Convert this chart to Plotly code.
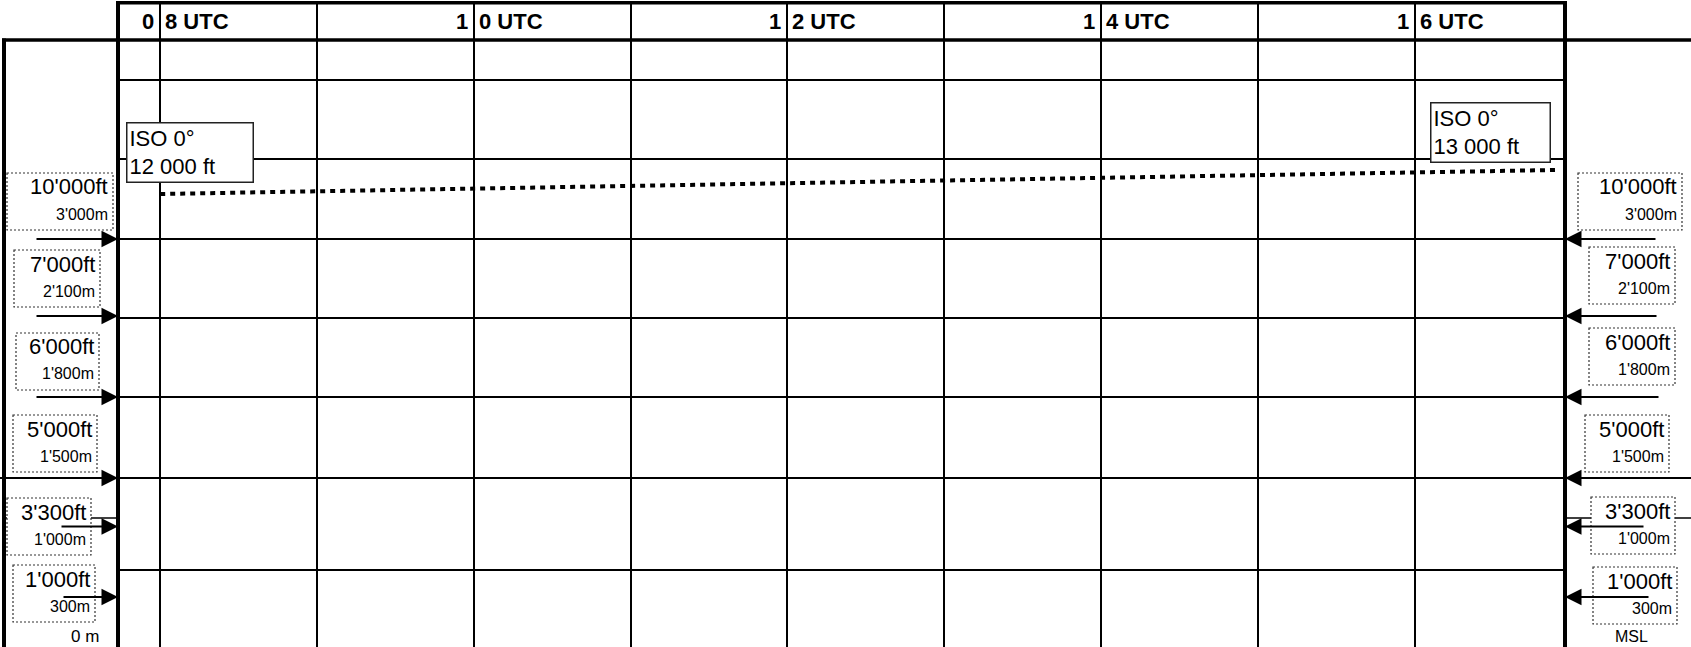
import numpy as np
import plotly.graph_objects as go

# ---------------- data ----------------
utc_hours = [8, 10, 12, 14, 16]
utc_labels = ["08 UTC", "10 UTC", "12 UTC", "14 UTC", "16 UTC"]

level_ft = [10000, 7000, 6000, 5000, 3300, 1000]
level_ft_labels = ["10'000ft", "7'000ft", "6'000ft", "5'000ft", "3'300ft", "1'000ft"]
level_m_labels = ["3'000m", "2'100m", "1'800m", "1'500m", "1'000m", "300m"]

iso_hours = [8.0, 16.9]
iso_ft = [12000, 13000]
iso_labels = ["ISO 0°<br>12 000 ft", "ISO 0°<br>13 000 ft"]

base_left_label = "0 m"
base_right_label = "MSL"

# ---------------- layout / scales ----------------
W, H = 1691, 647
FONT = "Liberation Sans, Arial, sans-serif"
FRAME_L, FRAME_R, FRAME_T = 118, 1565, 3
HOUR12_PX, PX_PER_HOUR = 787.4, 156.8
x_range = [12 + (FRAME_L - HOUR12_PX) / PX_PER_HOUR,
           12 + (FRAME_R - HOUR12_PX) / PX_PER_HOUR]

# schematic (non-linear) altitude scale: axis unit = px from top
SCALE_FT = [1000, 3300, 5000, 6000, 7000, 10000, 12000, 13000]
SCALE_Y = [597, 526.5, 478, 397, 316, 239, 194, 170]


def vpos(ft):
    return np.interp(ft, SCALE_FT, SCALE_Y)


GRID_ROWS = [80, 159, 239, 318, 397, 478, 570]

LEFT_BOX_X = [(7, 113), (14, 100), (16, 99), (13, 97), (7, 91), (13, 95)]
LEFT_BOX_TOP = [173, 250, 333, 415, 498, 565]
RIGHT_BOX_X = [(1578, 1682), (1589, 1675), (1589, 1675), (1585, 1669), (1591, 1675), (1593, 1677)]
RIGHT_BOX_TOP = [173, 247, 328, 415, 497, 567]
BOX_H = 57
LEFT_TAIL = [35, 35, 35, 35, 60, 62]
RIGHT_TAIL = [1657, 1658, 1660, 1660, 1645, 1650]

BIG, SMALL = 22, 16


def px(x):
    return x / W


def py(y):
    return 1 - y / H


fig = go.Figure()

# ISO 0° line
fig.add_trace(go.Scatter(
    x=iso_hours, y=vpos(iso_ft), mode="lines",
    line=dict(color="black", width=4, dash="5px,5px"),
    hoverinfo="skip", showlegend=False,
))

shapes = []


def hline(y, x0, x1, w):
    shapes.append(dict(type="line", xref="paper", yref="paper", x0=px(x0), x1=px(x1),
                       y0=py(y), y1=py(y), line=dict(color="black", width=w), layer="above"))


def vline(x, y0, y1, w):
    shapes.append(dict(type="line", xref="paper", yref="paper", x0=px(x), x1=px(x),
                       y0=py(y0), y1=py(y1), line=dict(color="black", width=w), layer="above"))


# margin lines (below the label boxes)
hline(478, 0, FRAME_L, 2)
hline(478, FRAME_R, W, 2)
hline(518, 4, FRAME_L, 1.5)
hline(518, FRAME_R, W, 1.5)

# frames
vline(FRAME_L, 1, H, 4)
vline(FRAME_R, 1, H, 4)
hline(2.7, FRAME_L - 2, FRAME_R + 2, 3.5)
hline(40, 2, W, 3.5)
vline(4, 38.5, H, 4)

annotations = []

# level label boxes, labels and arrows
for i, ft in enumerate(level_ft):
    tip = float(vpos(ft))
    for bx, top, tail, edge in ((LEFT_BOX_X[i], LEFT_BOX_TOP[i], LEFT_TAIL[i], FRAME_L),
                                (RIGHT_BOX_X[i], RIGHT_BOX_TOP[i], RIGHT_TAIL[i], FRAME_R)):
        shapes.append(dict(type="rect", xref="paper", yref="paper",
                           x0=px(bx[0]), x1=px(bx[1]), y0=py(top), y1=py(top + BOX_H),
                           line=dict(color="#333", width=1.2, dash="2px,2px"),
                           fillcolor="white", layer="above"))
        annotations.append(dict(xref="paper", yref="paper", x=px(bx[1] - 3), y=py(top + 14),
                                xanchor="right", yanchor="middle", text=level_ft_labels[i],
                                showarrow=False, font=dict(family=FONT, size=BIG, color="black")))
        annotations.append(dict(xref="paper", yref="paper", x=px(bx[1] - 3), y=py(top + 41),
                                xanchor="right", yanchor="middle", text=level_m_labels[i],
                                showarrow=False, font=dict(family=FONT, size=SMALL, color="black")))
        annotations.append(dict(xref="paper", yref="paper", x=px(edge), y=py(tip),
                                text="", showarrow=True, arrowhead=2, arrowsize=1.65,
                                arrowwidth=2, arrowcolor="black", standoff=0,
                                ax=tail - edge, ay=0, axref="pixel", ayref="pixel"))

annotations.append(dict(xref="paper", yref="paper", x=px(85), y=py(636), text=base_left_label,
                        showarrow=False, xanchor="center", yanchor="middle",
                        font=dict(family=FONT, size=17, color="black")))
annotations.append(dict(xref="paper", yref="paper", x=px(1631), y=py(636), text=base_right_label,
                        showarrow=False, xanchor="center", yanchor="middle",
                        font=dict(family=FONT, size=16, color="black")))

# header UTC labels (split at the hour line)
for h, lab in zip(utc_hours, utc_labels):
    annotations.append(dict(xref="x", yref="paper", x=h, y=py(22), text=lab[0],
                            xanchor="right", yanchor="middle", xshift=-4, showarrow=False,
                            font=dict(family=FONT, size=22, color="black", weight="bold")))
    annotations.append(dict(xref="x", yref="paper", x=h, y=py(22), text=lab[1:],
                            xanchor="left", yanchor="middle", xshift=3, showarrow=False,
                            font=dict(family=FONT, size=22, color="black", weight="bold")))

# ISO 0° boxes anchored to the ends of the line
iso_y = vpos(iso_ft)
annotations.append(dict(xref="x", yref="y", x=iso_hours[0], y=float(iso_y[0]), text=iso_labels[0],
                        xanchor="left", yanchor="bottom", xshift=-34, yshift=11, align="left",
                        showarrow=False, bgcolor="white", bordercolor="#222", borderwidth=1.5,
                        borderpad=2, width=121, height=54,
                        font=dict(family=FONT, size=BIG, color="black")))
annotations.append(dict(xref="x", yref="y", x=iso_hours[1], y=float(iso_y[1]), text=iso_labels[1],
                        xanchor="right", yanchor="bottom", xshift=-5, yshift=7, align="left",
                        showarrow=False, bgcolor="white", bordercolor="#222", borderwidth=1.5,
                        borderpad=2, width=114, height=54,
                        font=dict(family=FONT, size=BIG, color="black")))

fig.update_layout(
    width=W, height=H, margin=dict(l=0, r=0, t=0, b=0),
    paper_bgcolor="white", plot_bgcolor="white", showlegend=False,
    xaxis=dict(domain=[px(FRAME_L), px(FRAME_R)], range=x_range, tick0=8, dtick=1,
               showgrid=True, gridcolor="black", gridwidth=2, zeroline=False,
               showline=False, showticklabels=False, ticks=""),
    yaxis=dict(domain=[0, py(FRAME_T)], range=[H, FRAME_T], tickmode="array",
               tickvals=GRID_ROWS, showgrid=True, gridcolor="black", gridwidth=2,
               zeroline=False, showline=False, showticklabels=False, ticks=""),
    shapes=shapes, annotations=annotations,
)

fig.write_html("out.html", config={"displayModeBar": False},
               post_script="document.body.style.margin='0';document.body.style.overflow='hidden';")
